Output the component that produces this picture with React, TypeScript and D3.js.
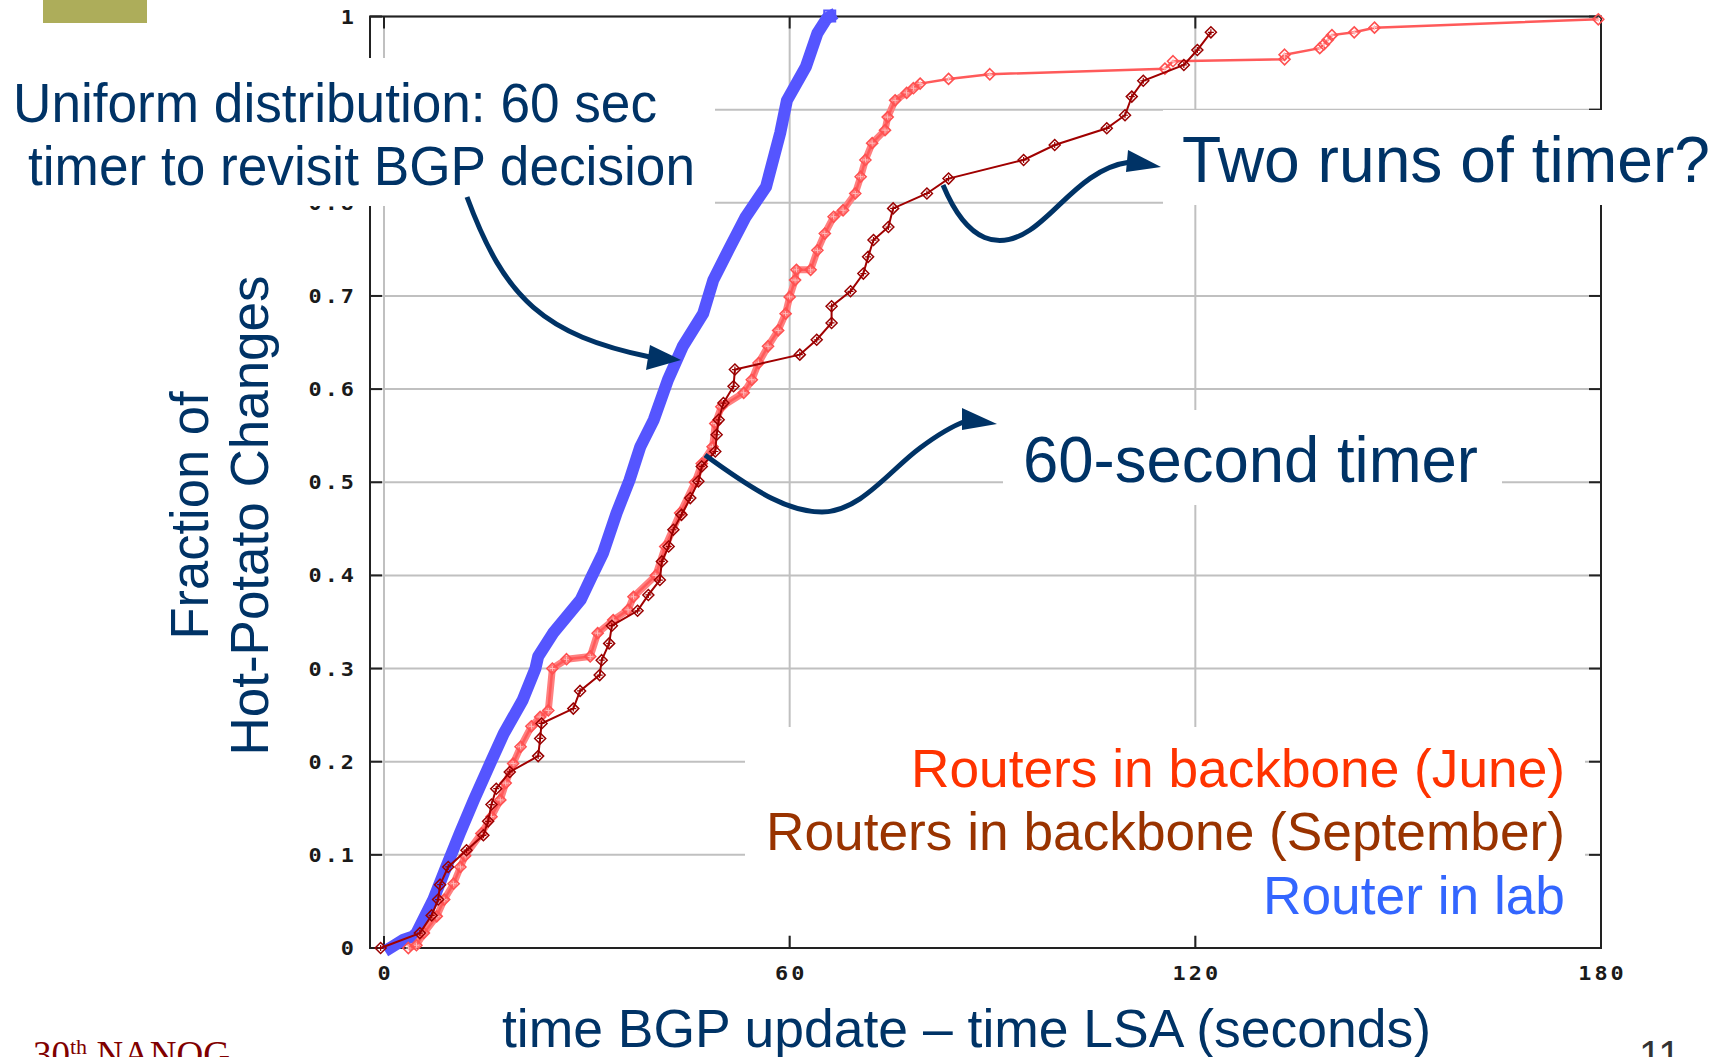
import React from "react";
import * as d3 from "d3";

const W = 1729;
const H = 1057;

// axis ticks
const xTicks = [0, 60, 120, 180];
const xTickLabels = ["0", "60", "120", "180"];
const yTicks = [0, 0.1, 0.2, 0.3, 0.4, 0.5, 0.6, 0.7, 0.8, 0.9, 1];
const yTickLabels = ["0", "0.1", "0.2", "0.3", "0.4", "0.5", "0.6", "0.7", "0.8", "0.9", "1"];

// Router in lab (blue)
const labTime = [0.9, 2.9, 4.2, 4.8, 7.3, 9.2, 11.2, 13.3, 15.7, 17.7, 20.5, 22.4, 22.8, 25.0, 29.1, 30.8, 32.4, 34.4, 36.3, 37.9, 39.9, 42.0, 44.2, 47.2, 48.7, 51.0, 53.5, 56.5, 58.6, 59.6, 62.4, 64.1, 65.5, 66.0];
const labFrac = [0.0, 0.009, 0.012, 0.016, 0.052, 0.087, 0.123, 0.159, 0.198, 0.23, 0.266, 0.3, 0.313, 0.338, 0.374, 0.4, 0.424, 0.467, 0.502, 0.538, 0.567, 0.61, 0.646, 0.681, 0.717, 0.75, 0.785, 0.817, 0.875, 0.91, 0.946, 0.982, 0.998, 1.0];

// Routers in backbone (June) (light red)
const juneTime = [3.6, 4.8, 5.9, 7.8, 8.9, 10.3, 11.3, 12.0, 14.4, 15.9, 17.2, 18.0, 19.1, 20.2, 21.8, 23.1, 24.3, 24.9, 27.0, 30.5, 31.6, 33.9, 36.1, 36.9, 40.2, 41.6, 43.8, 46.0, 47.0, 48.6, 49.0, 49.9, 53.2, 54.4, 55.4, 56.8, 58.3, 59.4, 60.0, 60.8, 61.0, 63.1, 64.1, 65.2, 66.5, 67.9, 69.7, 70.5, 71.2, 72.2, 74.1, 74.5, 75.6, 77.3, 78.3, 79.3, 83.5, 89.6, 115.5, 116.7, 133.2, 133.2, 138.4, 139.0, 139.6, 140.2, 143.5, 146.5, 179.6];
const juneFrac = [0.0, 0.003, 0.016, 0.034, 0.052, 0.069, 0.087, 0.099, 0.123, 0.141, 0.159, 0.177, 0.198, 0.216, 0.238, 0.248, 0.255, 0.3, 0.31, 0.313, 0.338, 0.352, 0.363, 0.377, 0.4, 0.431, 0.467, 0.5, 0.52, 0.538, 0.563, 0.581, 0.596, 0.61, 0.628, 0.646, 0.663, 0.681, 0.699, 0.717, 0.728, 0.728, 0.749, 0.767, 0.785, 0.792, 0.81, 0.828, 0.846, 0.864, 0.878, 0.892, 0.91, 0.918, 0.923, 0.928, 0.933, 0.938, 0.944, 0.952, 0.954, 0.959, 0.966, 0.97, 0.975, 0.98, 0.983, 0.988, 0.997];

// Routers in backbone (September) (dark red)
const sepTime = [-0.5, 5.3, 7.05, 8.0, 8.3, 9.5, 12.2, 14.7, 15.4, 15.9, 16.6, 18.6, 22.8, 23.1, 23.3, 28.0, 29.0, 31.9, 32.2, 33.3, 33.7, 37.5, 39.1, 40.8, 41.1, 42.1, 42.8, 44.0, 45.3, 46.5, 47.0, 49.0, 49.2, 49.5, 50.2, 51.7, 51.9, 61.5, 64.0, 66.2, 66.2, 69.0, 70.9, 71.6, 72.4, 74.6, 75.3, 80.3, 83.5, 94.6, 99.2, 106.9, 109.6, 110.6, 112.3, 118.3, 120.3, 122.3];
const sepFrac = [0.0, 0.016, 0.035, 0.052, 0.068, 0.087, 0.105, 0.121, 0.136, 0.154, 0.171, 0.189, 0.206, 0.225, 0.241, 0.257, 0.276, 0.293, 0.309, 0.327, 0.346, 0.362, 0.379, 0.395, 0.415, 0.431, 0.449, 0.465, 0.483, 0.501, 0.517, 0.533, 0.551, 0.567, 0.585, 0.603, 0.621, 0.637, 0.653, 0.671, 0.689, 0.705, 0.724, 0.742, 0.76, 0.774, 0.794, 0.81, 0.826, 0.846, 0.862, 0.88, 0.894, 0.914, 0.931, 0.948, 0.964, 0.983];

const legendLabels = ["Routers in backbone (June)", "Routers in backbone (September)", "Router in lab"];
const legendColors = ["#FF3300", "#993300", "#3366FF"];

const NAVY = "#003366";
const SANS = "'Liberation Sans', Arial, sans-serif";
const MONO = "'DejaVu Sans Mono', monospace";

function diamond(cx: number, cy: number, s: number) {
  return `M${cx},${cy - s}L${cx + s},${cy}L${cx},${cy + s}L${cx - s},${cy}Z`;
}

export default function App() {
  const x = d3.scaleLinear().domain([0, 180]).range([384, 1601]);
  const y = d3.scaleLinear().domain([0, 1]).range([948, 16.5]);
  const line = d3
    .line<[number, number]>()
    .x((d) => x(d[0]))
    .y((d) => y(d[1]));

  const lab: [number, number][] = labTime.map((t, i) => [t, labFrac[i]]);
  const june: [number, number][] = juneTime.map((t, i) => [t, juneFrac[i]]);
  const sep: [number, number][] = sepTime.map((t, i) => [t, sepFrac[i]]);
  const juneDense = june.filter((d) => d[0] < 80);

  const fL = x(-2.07);
  const fR = x(180);
  const fT = y(1);
  const fB = y(0);
  const tickLen = 12;

  return (
    <div style={{ position: "absolute", left: 0, top: 0, width: W, height: H, background: "#fff" }}>
      <svg width={W} height={H} viewBox={`0 0 ${W} ${H}`} style={{ display: "block" }}>
        <rect x={0} y={0} width={W} height={H} fill="#fff" />
        {/* olive title bar fragment */}
        <rect x={43} y={0} width={104} height={23} fill="#ADAD5A" />

        {/* grid */}
        <g stroke="#c0c0c0" strokeWidth={2}>
          {yTicks.map((t) => (
            <line key={"gy" + t} x1={fL} x2={fR} y1={y(t)} y2={y(t)} />
          ))}
          {xTicks.map((t) => (
            <line key={"gx" + t} x1={x(t)} x2={x(t)} y1={fT} y2={fB} />
          ))}
        </g>

        {/* frame + ticks */}
        <g stroke="#222" strokeWidth={2} fill="none">
          <rect x={fL} y={fT} width={fR - fL} height={fB - fT} />
          {yTicks.map((t) => (
            <g key={"ty" + t}>
              <line x1={fL} x2={fL + tickLen} y1={y(t)} y2={y(t)} />
              <line x1={fR - tickLen} x2={fR} y1={y(t)} y2={y(t)} />
            </g>
          ))}
          {xTicks.map((t) => (
            <g key={"tx" + t}>
              <line x1={x(t)} x2={x(t)} y1={fB} y2={fB - tickLen} />
              <line x1={x(t)} x2={x(t)} y1={fT} y2={fT + tickLen} />
            </g>
          ))}
        </g>

        {/* tick labels */}
        <g fontFamily={MONO} fontSize={19} fontWeight="bold" fill="#1a1a1a" letterSpacing={2.6}>
          {yTicks.map((t, i) => (
            <text key={"ly" + t} transform={`translate(357,${y(t) + 7}) scale(1.15,1)`} textAnchor="end">
              {yTickLabels[i]}
            </text>
          ))}
          {xTicks.map((t, i) => (
            <text key={"lx" + t} transform={`translate(${x(t) + 1.5},980) scale(1.15,1)`} textAnchor="middle">
              {xTickLabels[i]}
            </text>
          ))}
        </g>

        {/* data */}
        <path d={line(lab) || ""} fill="none" stroke="#5555FF" strokeWidth={12} strokeLinejoin="round" strokeLinecap="square" />
        <rect x={x(66) - 6} y={y(1) - 6} width={11} height={11} fill="none" stroke="#5555FF" strokeWidth={2} />

        <path d={line(juneDense) || ""} fill="none" stroke="#FF8080" strokeWidth={7} strokeLinejoin="round" />
        <path d={line(june) || ""} fill="none" stroke="#FF5A5A" strokeWidth={2.5} />
        <g fill="none" stroke="#FF5050" strokeWidth={1.6}>
          {june.map((d, i) => (
            <g key={"jm" + i}>
              <path d={diamond(x(d[0]), y(d[1]), 5.5)} />
              <path d={`M${x(d[0]) - 2.5},${y(d[1])}h5M${x(d[0])},${y(d[1]) - 2.5}v5`} stroke="#FFC0C0" strokeWidth={1} />
            </g>
          ))}
        </g>

        <path d={line(sep) || ""} fill="none" stroke="#A00000" strokeWidth={2} />
        <g fill="none" stroke="#990000" strokeWidth={1.5}>
          {sep.map((d, i) => (
            <g key={"sm" + i}>
              <path d={diamond(x(d[0]), y(d[1]), 5.5)} />
              <path d={`M${x(d[0]) - 3},${y(d[1])}h6M${x(d[0])},${y(d[1]) - 3}v6`} strokeWidth={1.2} />
            </g>
          ))}
        </g>

        {/* white text boxes of the slide */}
        <g fill="#fff">
          <rect x={0} y={58} width={715} height={148} />
          <rect x={1163} y={110} width={W - 1163} height={95} />
          <rect x={1003} y={410} width={499} height={95} />
          <rect x={745} y={727} width={840} height={208} />
        </g>

        {/* annotations */}
        <g fontFamily={SANS} fill={NAVY}>
          <text x={13} y={122} fontSize={55} textLength={644} lengthAdjust="spacingAndGlyphs">
            Uniform distribution: 60 sec
          </text>
          <text x={28} y={185} fontSize={55} textLength={667} lengthAdjust="spacingAndGlyphs">
            timer to revisit BGP decision
          </text>
          <text x={1182} y={182} fontSize={65} textLength={528} lengthAdjust="spacingAndGlyphs">
            Two runs of timer?
          </text>
          <text x={1023} y={482} fontSize={65} textLength={455} lengthAdjust="spacingAndGlyphs">
            60-second timer
          </text>
          <text x={502} y={1047} fontSize={54} textLength={929} lengthAdjust="spacingAndGlyphs">
            time BGP update – time LSA (seconds)
          </text>
          <text transform="translate(208,515.5) rotate(-90)" textAnchor="middle" fontSize={54} textLength={248} lengthAdjust="spacingAndGlyphs">
            Fraction of
          </text>
          <text transform="translate(268,515.5) rotate(-90)" textAnchor="middle" fontSize={54} textLength={480} lengthAdjust="spacingAndGlyphs">
            Hot-Potato Changes
          </text>
        </g>

        {/* legend */}
        <g fontFamily={SANS} fontSize={54} textAnchor="end">
          <text x={1565} y={787} fill={legendColors[0]} textLength={654} lengthAdjust="spacingAndGlyphs">
            {legendLabels[0]}
          </text>
          <text x={1565} y={850} fill={legendColors[1]} textLength={799} lengthAdjust="spacingAndGlyphs">
            {legendLabels[1]}
          </text>
          <text x={1565} y={914} fill={legendColors[2]} textLength={302} lengthAdjust="spacingAndGlyphs">
            {legendLabels[2]}
          </text>
        </g>

        {/* arrows */}
        <g fill="none" stroke={NAVY} strokeWidth={5} strokeLinecap="butt">
          <path d="M467,197 C505,300 545,335 650,357" />
          <path d="M943,185 C968,245 1000,250 1030,230 S1085,168 1130,162" />
          <path d="M705,455 C760,495 790,512 822,512 C860,512 890,470 920,448 C940,433 955,425 966,421" />
        </g>
        <g fill={NAVY}>
          <path d="M650,345 L681,360 L646,370 Z" />
          <path d="M1128,150 L1161,167 L1126,172 Z" />
          <path d="M962,408 L997,424 L962,430 Z" />
        </g>

        {/* footer */}
        <text x={33} y={1067} fontFamily="'Liberation Serif', 'Times New Roman', serif" fontSize={37} fill="#800000">
          30<tspan dy={-13} fontSize={22}>th</tspan>
          <tspan dy={13}> NANOG</tspan>
        </text>
        <text x={1639} y={1069} fontFamily={SANS} fontSize={40} fill="#333">
          11
        </text>
      </svg>
    </div>
  );
}
